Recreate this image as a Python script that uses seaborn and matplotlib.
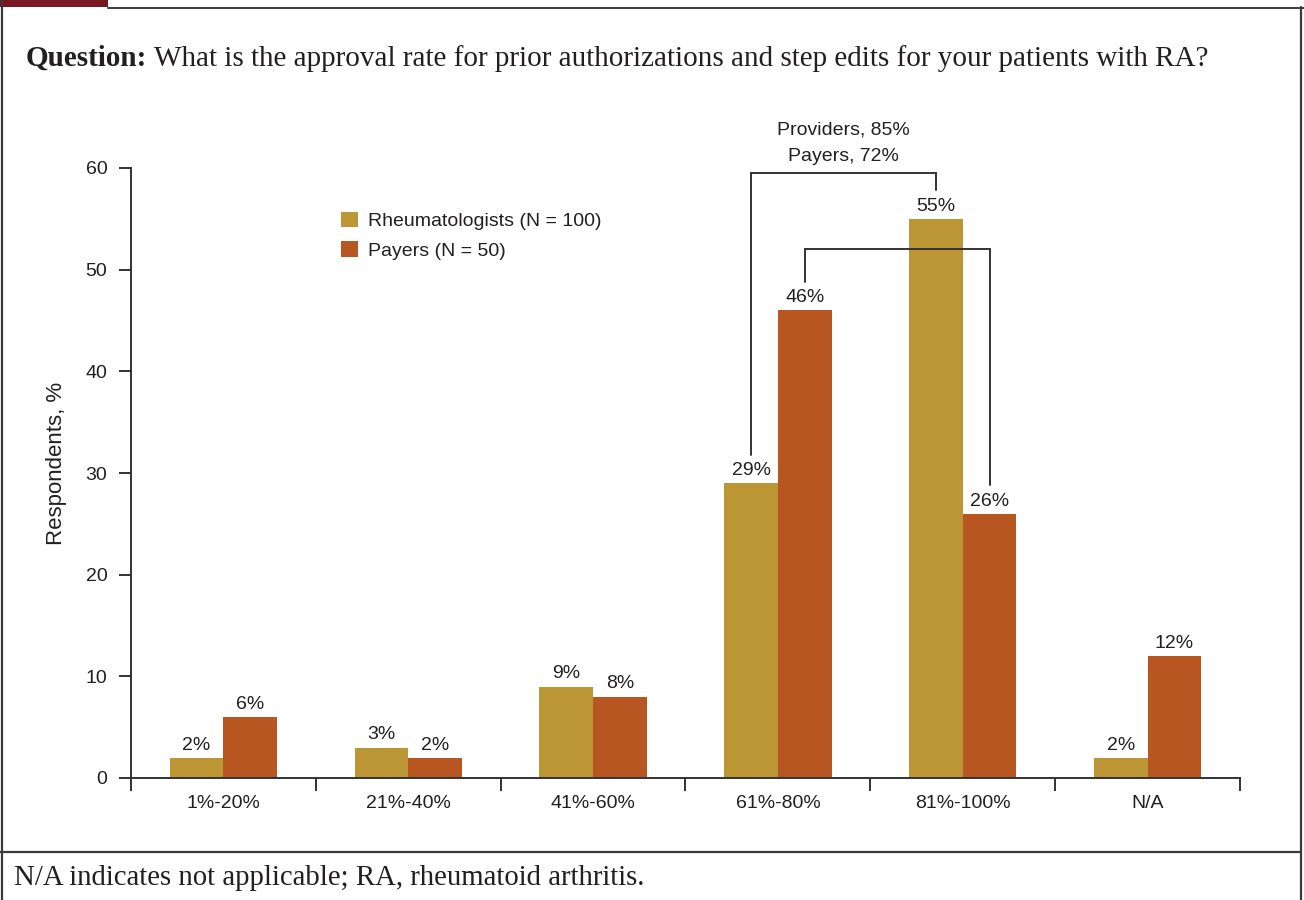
import matplotlib
matplotlib.use("Agg")
import matplotlib.pyplot as plt
from matplotlib.patches import Patch, Rectangle
from matplotlib.lines import Line2D
import seaborn as sns
import pandas as pd

# Survey responses: approval rate buckets
categories = ["1%-20%", "21%-40%", "41%-60%", "61%-80%", "81%-100%", "N/A"]
rheumatologists = [2, 3, 9, 29, 55, 2]
payers = [6, 2, 8, 46, 26, 12]
groups = ["Rheumatologists (N = 100)", "Payers (N = 50)"]
colors = ["#BC9535", "#B85622"]
yticks = [0, 10, 20, 30, 40, 50, 60]
summary_text = "Providers, 85%\nPayers, 72%"
title_bold = "Question:"
title_rest = "What is the approval rate for prior authorizations and step edits for your patients with RA?"
footnote = "N/A indicates not applicable; RA, rheumatoid arthritis."

df = pd.DataFrame({
    "category": categories * 2,
    "value": rheumatologists + payers,
    "group": [groups[0]] * len(categories) + [groups[1]] * len(categories),
})

sns.set_theme(style="ticks")
plt.rcParams["font.family"] = ["Liberation Sans", "DejaVu Sans"]
TXT = "#231F20"
SERIF = ["Liberation Serif", "DejaVu Serif"]

fig = plt.figure(figsize=(13.04, 9.0), dpi=100)
W, H = 1304, 900
ax = fig.add_axes([131 / W, 1 - 778 / H, (1240 - 131) / W, (778 - 168) / H])

sns.barplot(data=df, x="category", y="value", hue="group", hue_order=groups,
            palette=colors, width=0.58, saturation=1, ax=ax, legend=False,
            edgecolor="none", linewidth=0)

ax.set_xlim(-0.5, len(categories) - 0.5)
ax.set_ylim(0, 60)
ax.set_yticks(yticks)
ax.set_yticklabels([str(t) for t in yticks], fontsize=14, color=TXT)
ax.set_xticks(range(len(categories)))
ax.set_xticklabels(categories, fontsize=14, color=TXT)
ax.set_xticks([i - 0.5 for i in range(len(categories) + 1)], minor=True)
ax.tick_params(axis="x", which="major", length=0, pad=12)
ax.tick_params(axis="x", which="minor", length=9, width=1.4, color="#333333", direction="out")
ax.tick_params(axis="y", which="major", length=9, width=1.4, color="#333333", direction="out", pad=8)
ax.set_xlabel("")
ax.set_ylabel("Respondents, %", fontsize=16, color=TXT)
ax.yaxis.set_label_coords(-0.058, 0.515)
sns.despine(ax=ax)
for side in ("left", "bottom"):
    ax.spines[side].set_linewidth(1.4)
    ax.spines[side].set_color("#333333")

# Value labels above each bar
for cont in ax.containers:
    ax.bar_label(cont, labels=[f"{p.get_height():g}%" for p in cont],
                 padding=3, fontsize=14, color=TXT)

# Brackets joining the two top buckets
rh_bars = list(ax.containers[0])
py_bars = list(ax.containers[1])

def center(p):
    return p.get_x() + p.get_width() / 2

def bracket(b1, b2, top, gap=2.8):
    x1, x2 = center(b1), center(b2)
    ax.plot([x1, x1, x2, x2], [b1.get_height() + gap, top, top, b2.get_height() + gap],
            color="#333333", lw=1.4, clip_on=False, solid_joinstyle="miter")

bracket(rh_bars[3], rh_bars[4], 59.5)
bracket(py_bars[3], py_bars[4], 52.0)
mid = (center(rh_bars[3]) + center(rh_bars[4])) / 2
ax.text(mid, 60.25, summary_text, ha="center", va="bottom", fontsize=14,
        color=TXT, linespacing=1.75, clip_on=False)

# Legend
handles = [Patch(facecolor=c, edgecolor="none") for c in colors]
ax.legend(handles, groups, loc="upper left", bbox_to_anchor=(0.174, 0.957),
          frameon=False, fontsize=14, handlelength=0.85, handleheight=0.85,
          handletextpad=0.5, labelspacing=0.56, labelcolor=TXT)

# Title and footnote
t1 = fig.text(26 / W, 1 - 66 / H, title_bold, fontsize=21, fontweight="bold",
              family=SERIF, color=TXT, va="baseline")
fig.canvas.draw()
bb = t1.get_window_extent()
fig.text(bb.x1 / W + 7 / W, 1 - 66 / H, title_rest, fontsize=21,
         family=SERIF, color=TXT, va="baseline")
fig.text(14 / W, 1 - 885 / H, footnote, fontsize=20.7, family=SERIF,
         color=TXT, va="baseline")

# Panel frame
frame = "#3a3a3a"
fig.add_artist(Rectangle((0, 1 - 7 / H), 108 / W, 7 / H, transform=fig.transFigure,
                         facecolor="#7A1522", edgecolor="none"))
fig.add_artist(Line2D([108 / W, 1], [1 - 7.5 / H, 1 - 7.5 / H], color=frame, lw=1.4))
fig.add_artist(Line2D([1.5 / W, 1.5 / W], [0, 1], color=frame, lw=1.6))
fig.add_artist(Line2D([1300.5 / W, 1300.5 / W], [0, 1 - 7 / H], color=frame, lw=1.6))
fig.add_artist(Line2D([0, 1300 / W], [1 - 852 / H, 1 - 852 / H], color=frame, lw=1.6))

fig.savefig("out.png", dpi=100, facecolor="white")
